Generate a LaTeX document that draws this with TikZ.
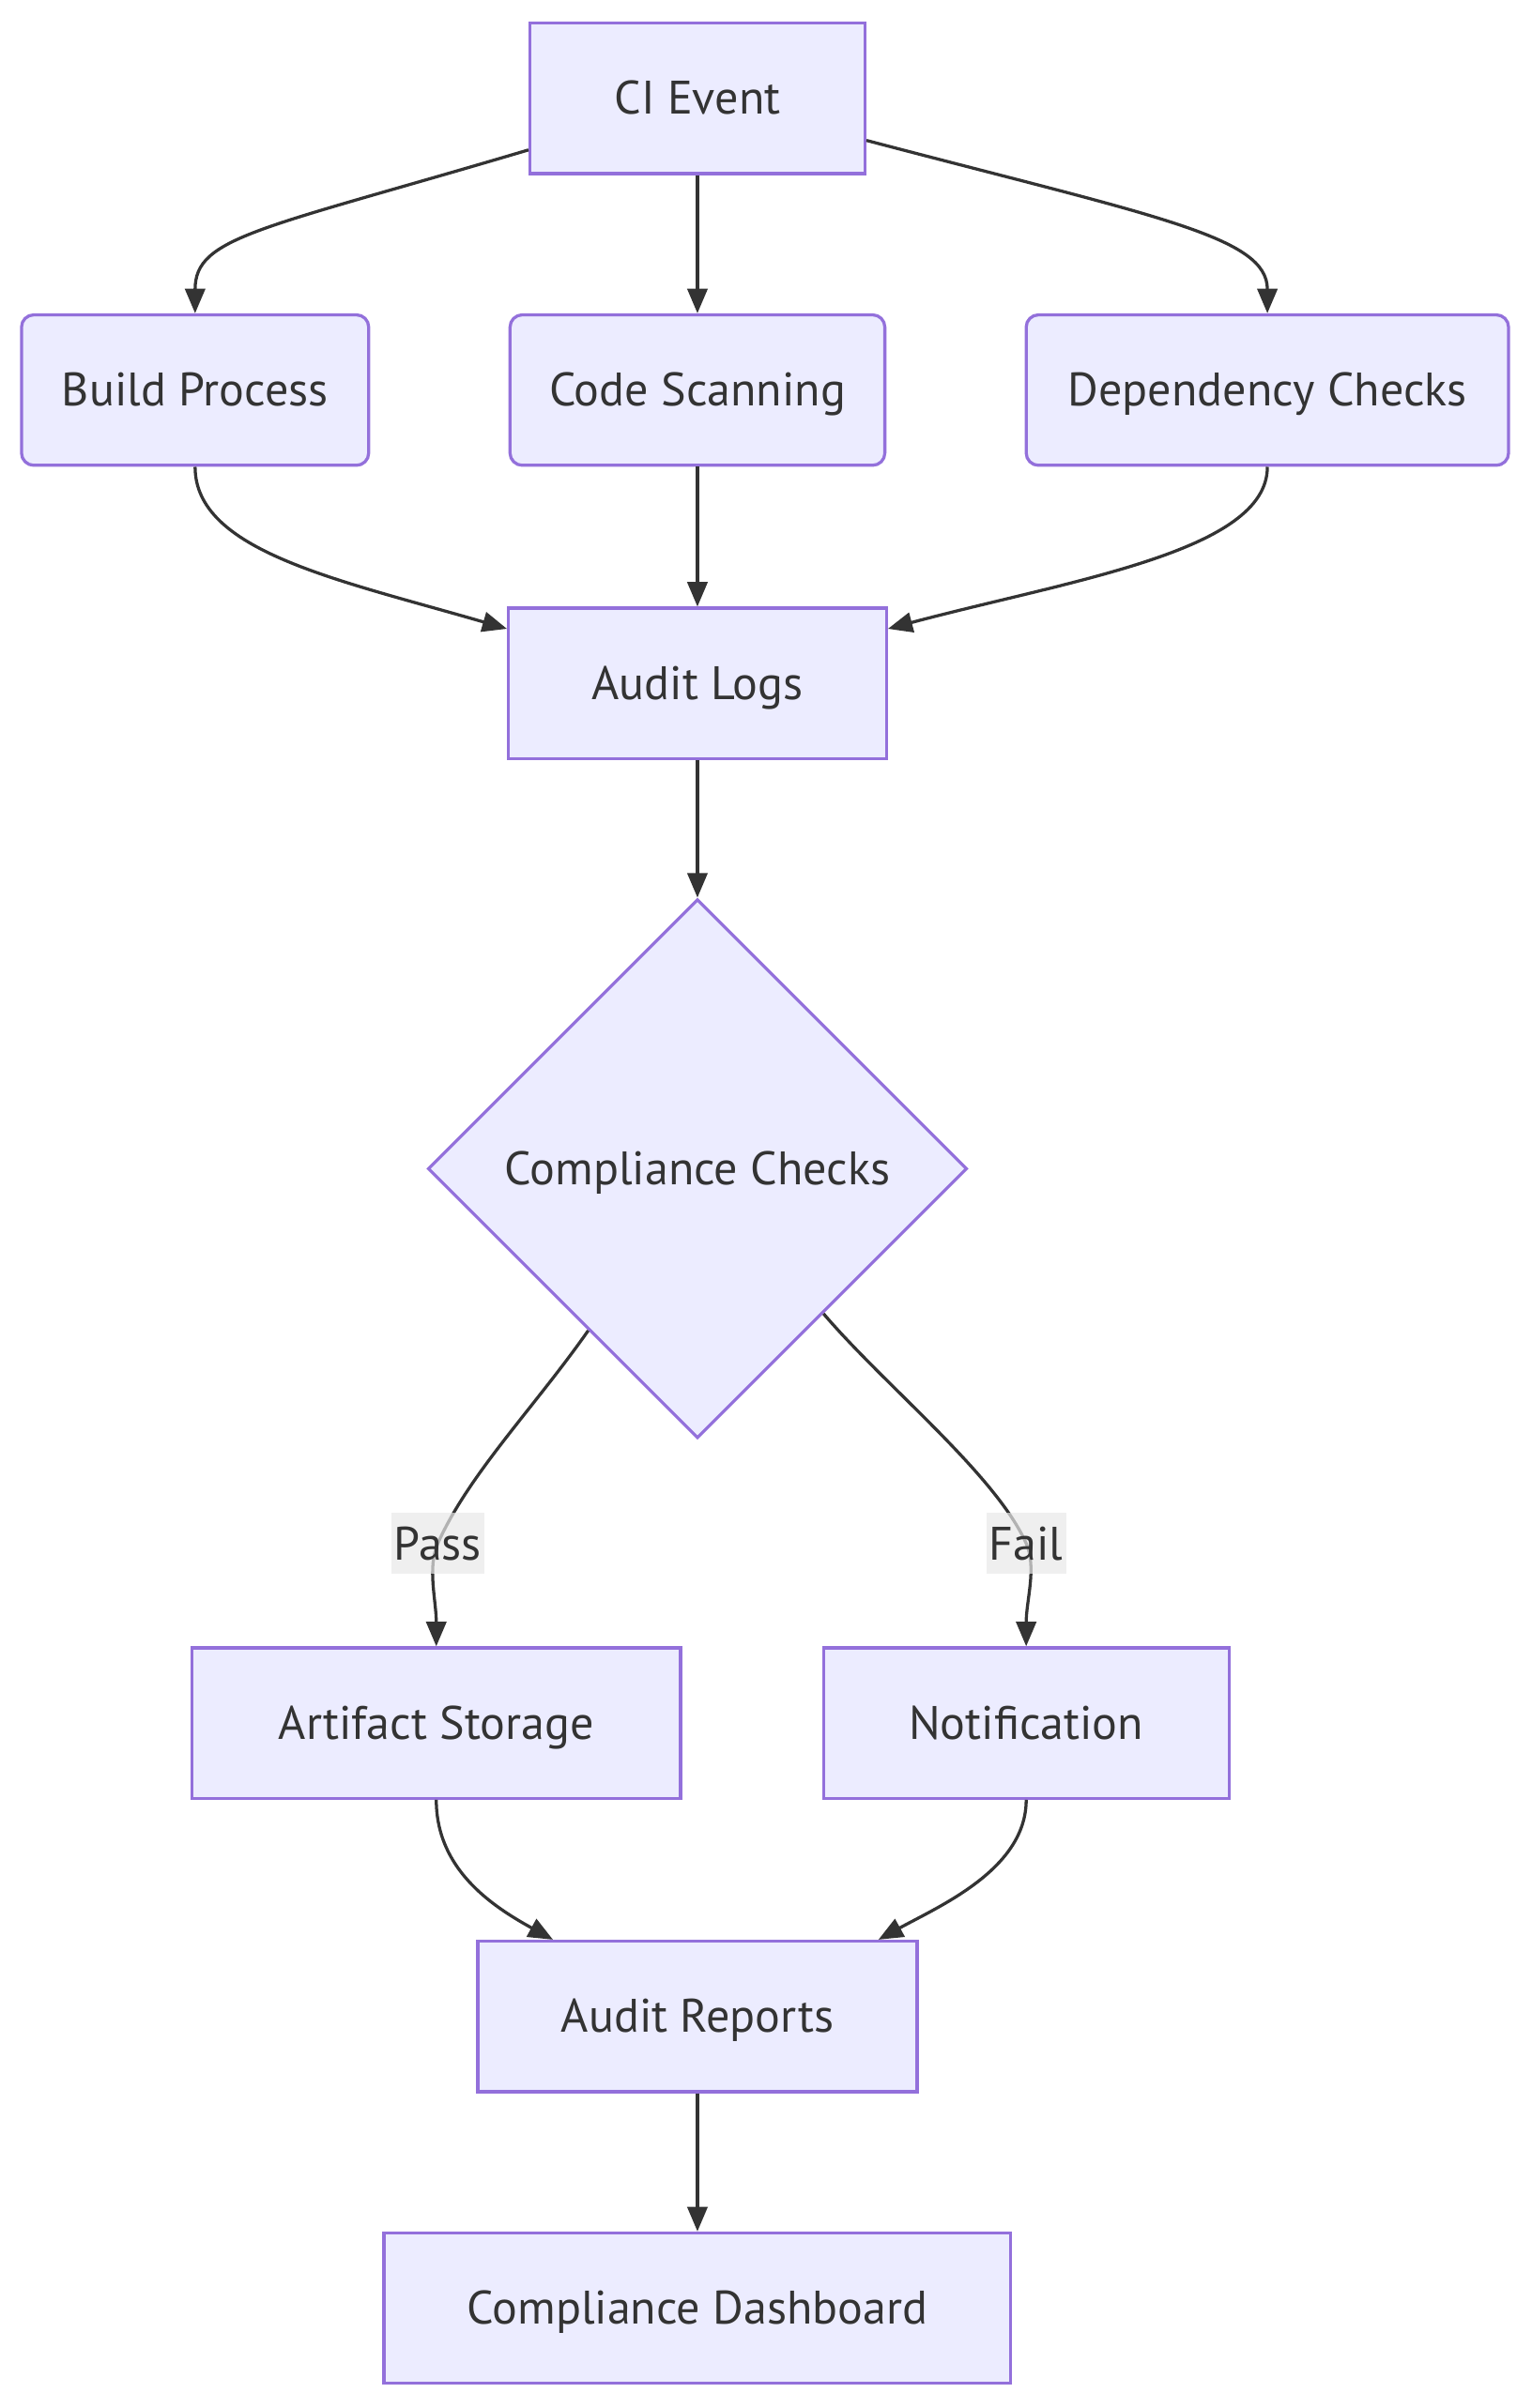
\documentclass[tikz,border=0pt]{standalone}
\usepackage{fontspec}
\setmainfont{PT Sans}
\usetikzlibrary{arrows.meta,shapes.geometric}
\definecolor{boxfill}{HTML}{ECECFF}
\definecolor{boxline}{HTML}{9370DB}
\definecolor{ink}{HTML}{333333}
\definecolor{labelbg}{HTML}{E8E8E8}

\begin{document}
\begin{tikzpicture}[x=0.5pt, y=-0.5pt, every node/.style={font=\fontsize{15.3}{18}\selectfont, text=ink}]
\tikzset{
    block/.style={draw=boxline, fill=boxfill, line width=1pt, minimum height=49pt, inner sep=0pt, text depth=0.5pt},
    soft/.style={block, rounded corners=4pt},
    decision/.style={diamond, aspect=1, draw=boxline, fill=boxfill, line width=1pt, minimum width=175.5pt, minimum height=175.5pt, inner sep=0pt, text depth=0.5pt},
    flow/.style={draw=ink, line width=1pt, -{Triangle[length=8pt,width=6.5pt]}},
    edgelabel/.style={fill=labelbg, fill opacity=0.7, text opacity=1, inner xsep=1pt, minimum height=20pt}
}
\useasboundingbox (0,0) rectangle (997,1568);

\node[block, minimum width=109pt] (ci) at (454,64) {CI Event};
\node[soft, minimum width=113pt] (build) at (127,254) {Build Process};
\node[soft, minimum width=122pt] (scan) at (454,254) {Code Scanning};
\node[soft, minimum width=157pt] (dep) at (825,254) {Dependency Checks};
\node[block, minimum width=123pt] (logs) at (454,445) {Audit Logs};
\node[decision] (comp) at (454,761) {Compliance Checks};
\node[block, minimum width=159pt] (art) at (284,1122) {Artifact Storage};
\node[block, minimum width=132pt] (notif) at (668,1122) {Notification};
\node[block, minimum width=143pt] (rep) at (454,1313) {Audit Reports};
\node[block, minimum width=204pt] (dash) at (454,1503) {Compliance Dashboard};

\coordinate (passpt) at (285,1005);
\coordinate (failpt) at (668,1005);

\draw[flow] (ci.197) .. controls +(-175,52) and +(0,-50) .. (build.north);
\draw[flow] (ci) -- (scan);
\draw[flow] (ci.-14) .. controls +(190,50) and +(0,-50) .. (dep.north);
\draw[flow] (build.south) .. controls +(0,55) and +(-110,-32) .. (logs.164);
\draw[flow] (scan) -- (logs);
\draw[flow] (dep.south) .. controls +(0,55) and +(120,-32) .. (logs.16);
\draw[flow] (logs) -- (comp);
\draw[flow] (comp.236) .. controls +(-35,50) and +(20,-45) .. (passpt) .. controls +(-7,16) and +(0,-30) .. (art.north);
\draw[flow] (comp.-49) .. controls +(40,47) and +(-20,-45) .. (failpt) .. controls +(7,16) and +(0,-30) .. (notif.north);
\draw[flow] (art.south) .. controls +(0,45) and +(-40,-22) .. (rep.152);
\draw[flow] (notif.south) .. controls +(0,45) and +(40,-22) .. (rep.23);
\draw[flow] (rep) -- (dash);

% edge labels on top of the lines
\node[edgelabel] (pass) at (passpt) {Pass};
\node[edgelabel] (fail) at (failpt) {Fail};

\end{tikzpicture}
\end{document}
